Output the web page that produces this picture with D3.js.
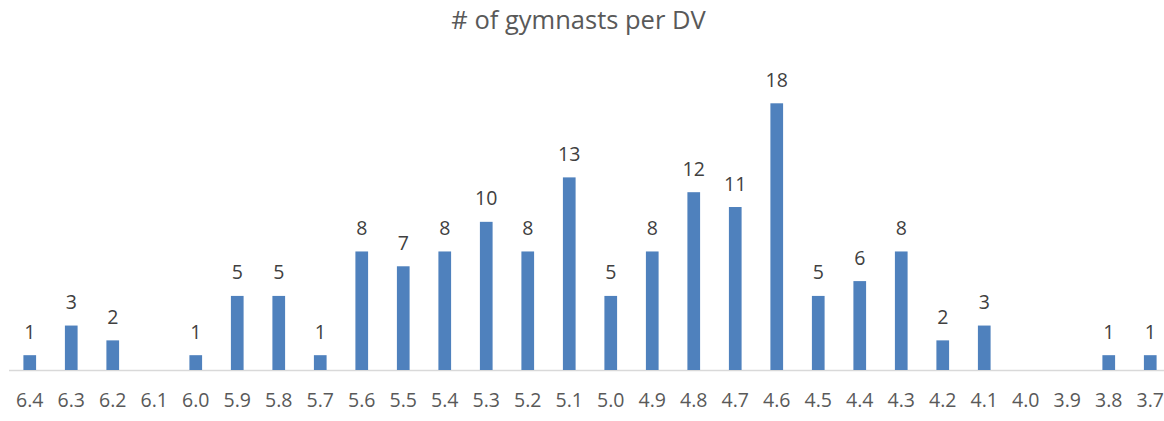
<!DOCTYPE html>
<html><head><meta charset="utf-8">
<script src="https://cdn.jsdelivr.net/npm/d3@7"></script>
<style>body{margin:0;background:#fff}svg{display:block}</style>
</head><body>
<svg id="c" width="1164" height="421"></svg>
<script>
const categories = ["6.4","6.3","6.2","6.1","6.0","5.9","5.8","5.7","5.6","5.5","5.4","5.3","5.2","5.1","5.0","4.9","4.8","4.7","4.6","4.5","4.4","4.3","4.2","4.1","4.0","3.9","3.8","3.7"];
const counts = [1,3,2,0,1,5,5,1,8,7,8,10,8,13,5,8,12,11,18,5,6,8,2,3,0,0,1,1];
const title = "# of gymnasts per DV";

const svg = d3.select("#c");
const font = "'Open Sans', sans-serif";
const x = d3.scaleBand().domain(categories).range([9, 1171]).paddingInner(0.694).paddingOuter(0.347);
const y = d3.scaleLinear().domain([0, 18]).range([370, 103.3]);

svg.append("text").attr("x", 578.5).attr("y", 29).attr("text-anchor", "middle")
  .attr("font-family", font).attr("font-size", 25.5).attr("fill", "#595959").text(title);

svg.append("line").attr("x1", 9).attr("x2", 1164).attr("y1", 370.5).attr("y2", 370.5)
  .attr("stroke", "#d9d9d9").attr("stroke-width", 1.5);

const data = categories.map((c, i) => ({c, v: counts[i]}));
svg.selectAll("rect.bar").data(data.filter(d => d.v > 0)).join("rect")
  .attr("x", d => x(d.c)).attr("width", x.bandwidth())
  .attr("y", d => y(d.v)).attr("height", d => y(0) - y(d.v)).attr("fill", "#4f81bd");

svg.selectAll("text.lbl").data(data.filter(d => d.v > 0)).join("text")
  .attr("x", d => x(d.c) + x.bandwidth() / 2).attr("y", d => y(d.v) - 16.5)
  .attr("text-anchor", "middle").attr("font-family", font).attr("font-size", 19.5)
  .attr("fill", "#404040").text(d => d.v);

const ax = svg.append("g").attr("transform", "translate(0,370)")
  .call(d3.axisBottom(x).tickSize(0).tickPadding(0));
ax.select(".domain").remove();
ax.selectAll("text").attr("y", 37).attr("dy", null).attr("font-family", font).attr("font-size", 19.5).attr("fill", "#595959");
</script>
</body></html>
